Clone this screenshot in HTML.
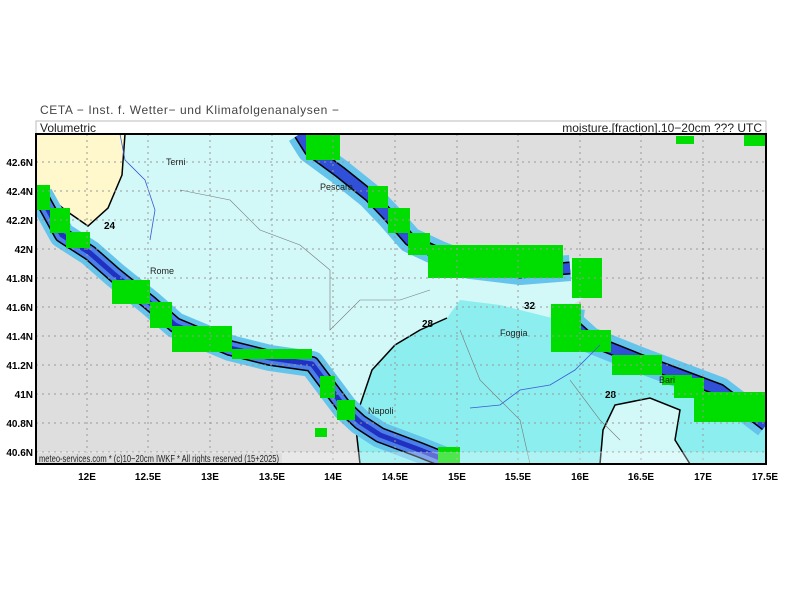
<!DOCTYPE html>
<html><head><meta charset="utf-8"><style>
body{margin:0;background:#fff;width:800px;height:600px;overflow:hidden}
svg{display:block;font-family:"Liberation Sans",sans-serif}
</style></head><body>
<svg width="800" height="600" viewBox="0 0 800 600">
<defs><clipPath id="c"><rect x="36" y="134" width="730" height="330"/></clipPath></defs>
<text x="40" y="114" font-size="12" fill="#444" letter-spacing="0.6">CETA − Inst. f. Wetter− und Klimafolgenanalysen −</text>
<rect x="36" y="121" width="730" height="13" fill="#fff" stroke="#bbb"/>
<text x="40" y="132" font-size="12" fill="#222">Volumetric</text>
<text x="762" y="132" font-size="12" fill="#222" text-anchor="end">moisture.[fraction].10−20cm ??? UTC</text>
<g clip-path="url(#c)">
<rect x="36" y="134" width="730" height="330" fill="#dedede"/>
<path d="M36,134 L300,134 L310,150 L340,172 L370,196 L390,217 L410,240 L440,250 L470,258 L520,263 L580,258 L598,262 L602,272 L598,287 L585,297 L572,305 L570,320 L590,335 L640,355 L680,370 L720,385 L755,410 L766,420 L766,464 L455,464 L420,448 L380,432 L360,420 L345,405 L330,385 L312,360 L270,355 L230,345 L175,322 L150,300 L115,272 L90,250 L60,232 L36,190 Z" fill="#d2f8f8"/>
<path d="M360,464 L355,420 L372,370 L395,345 L420,330 L447,318 L460,300 L500,305 L560,320 L590,345 L640,370 L700,395 L766,415 L766,464 Z" fill="#8ceeee"/>
<path d="M600,464 L603,430 L615,405 L650,398 L680,410 L675,440 L690,464 Z" fill="#d2f8f8" stroke="#000" stroke-width="1.5"/>
<path d="M36,134 L125,134 L122,175 L108,208 L88,226 L65,210 L36,186 Z" fill="#fff8cc" stroke="#000" stroke-width="1.5"/>
<path d="M360,464 L355,420 L372,370 L395,345 L420,330 L447,318" fill="none" stroke="#000" stroke-width="1.5"/>
<g fill="none" stroke-linejoin="round">
<path d="M40,195 L62,235 L90,253 L115,275 L150,303 L175,325 L230,348 L270,358 L312,364 L330,388 L345,408 L360,422 L380,435 L420,450 L455,464" stroke="#64c4ec" stroke-width="26"/>
<path d="M40,195 L62,235 L90,253 L115,275 L150,303 L175,325 L230,348 L270,358 L312,364 L330,388 L345,408 L360,422 L380,435 L420,450 L455,464" stroke="#000" stroke-width="16"/>
<path d="M40,195 L62,235 L90,253 L115,275 L150,303 L175,325 L230,348 L270,358 L312,364 L330,388 L345,408 L360,422 L380,435 L420,450 L455,464" stroke="#4a7ee8" stroke-width="13"/>
<path d="M40,195 L62,235 L90,253 L115,275 L150,303 L175,325 L230,348 L270,358 L312,364 L330,388 L345,408 L360,422 L380,435 L420,450 L455,464" stroke="#2030c0" stroke-width="5"/>
<path d="M300,134 L310,150 L340,172 L370,196 L390,217 L410,240 L440,254 L470,266 L520,272 L570,268 M572,308 L570,322 L590,340 L640,360 L680,375 L720,390 L766,425" stroke="#64c4ec" stroke-width="26"/>
<path d="M300,134 L310,150 L340,172 L370,196 L390,217 L410,240 L440,254 L470,266 L520,272 L570,268 M572,308 L570,322 L590,340 L640,360 L680,375 L720,390 L766,425" stroke="#000" stroke-width="13"/>
<path d="M300,134 L310,150 L340,172 L370,196 L390,217 L410,240 L440,254 L470,266 L520,272 L570,268 M572,308 L570,322 L590,340 L640,360 L680,375 L720,390 L766,425" stroke="#3050d8" stroke-width="10"/>
</g>
<g fill="#00dd00">
<rect x="36" y="185" width="14" height="25"/><rect x="50" y="208" width="20" height="25"/><rect x="66" y="232" width="24" height="16"/>
<rect x="112" y="280" width="38" height="24"/><rect x="150" y="302" width="22" height="26"/><rect x="172" y="326" width="60" height="26"/>
<rect x="232" y="349" width="80" height="10"/><rect x="320" y="376" width="15" height="22"/><rect x="337" y="400" width="18" height="20"/>
<rect x="438" y="447" width="22" height="17"/>
<rect x="306" y="134" width="34" height="26"/><rect x="368" y="186" width="20" height="22"/><rect x="388" y="208" width="22" height="25"/>
<rect x="408" y="233" width="22" height="22"/><rect x="428" y="245" width="135" height="33"/><rect x="572" y="258" width="30" height="40"/>
<rect x="551" y="304" width="30" height="48"/><rect x="581" y="330" width="30" height="22"/><rect x="612" y="355" width="50" height="20"/>
<rect x="662" y="375" width="30" height="10"/><rect x="674" y="378" width="30" height="20"/><rect x="694" y="392" width="72" height="30"/>
<rect x="676" y="136" width="18" height="8"/><rect x="744" y="134" width="22" height="12"/><rect x="315" y="428" width="12" height="9"/>
</g>
<path d="M120,134 L125,160 L145,180 L155,210 L150,240" fill="none" stroke="#3a5ad8" stroke-width="0.8"/>
<path d="M470,408 L500,405 L520,390 L550,385 L575,370 L600,345" fill="none" stroke="#3a5ad8" stroke-width="0.8"/>
<path d="M180,190 L230,200 L260,230 L300,245 L330,270 L330,330 L360,300 L400,300 L430,290 M460,330 L480,380 L500,400 L520,420 L530,464 M570,380 L600,420 L620,440" fill="none" stroke="#777" stroke-width="0.6"/>
<g font-size="9" fill="#222"><text x="166" y="165">Terni</text><text x="320" y="190">Pescara</text><text x="150" y="274">Rome</text><text x="500" y="336">Foggia</text><text x="368" y="414">Napoli</text><text x="659" y="383">Bari</text></g>
<g font-size="10" font-weight="bold" fill="#000"><text x="104" y="229">24</text><text x="422" y="327">28</text><text x="524" y="309">32</text><text x="605" y="398">28</text></g>
<g stroke="#999" stroke-width="1" stroke-dasharray="2,4">
<path d="M36,162H766M36,191H766M36,220H766M36,249H766M36,278H766M36,307H766M36,336H766M36,365H766M36,394H766M36,423H766M36,452H766"/>
<path d="M87,134V464M148,134V464M210,134V464M272,134V464M333,134V464M395,134V464M457,134V464M518,134V464M580,134V464M641,134V464M703,134V464"/>
</g>
<rect x="36" y="452" width="730" height="12" fill="#fff" fill-opacity="0.3"/>
<rect x="36" y="453" width="246" height="11" fill="#dedede"/>
<text x="39" y="462" font-size="10" fill="#222" textLength="240" lengthAdjust="spacingAndGlyphs">meteo-services.com * (c)10−20cm IWKF * All rights reserved (15+2025)</text>
</g>
<rect x="36" y="134" width="730" height="330" fill="none" stroke="#000" stroke-width="2"/>
<g font-size="10" font-weight="bold" fill="#000" text-anchor="end">
<text x="33" y="166">42.6N</text><text x="33" y="195">42.4N</text><text x="33" y="224">42.2N</text><text x="33" y="253">42N</text><text x="33" y="282">41.8N</text><text x="33" y="311">41.6N</text><text x="33" y="340">41.4N</text><text x="33" y="369">41.2N</text><text x="33" y="398">41N</text><text x="33" y="427">40.8N</text><text x="33" y="456">40.6N</text>
</g>
<g font-size="10" font-weight="bold" fill="#000" text-anchor="middle">
<text x="87" y="480">12E</text><text x="148" y="480">12.5E</text><text x="210" y="480">13E</text><text x="272" y="480">13.5E</text><text x="333" y="480">14E</text><text x="395" y="480">14.5E</text><text x="457" y="480">15E</text><text x="518" y="480">15.5E</text><text x="580" y="480">16E</text><text x="641" y="480">16.5E</text><text x="703" y="480">17E</text><text x="765" y="480">17.5E</text>
</g>
</svg>
</body></html>
